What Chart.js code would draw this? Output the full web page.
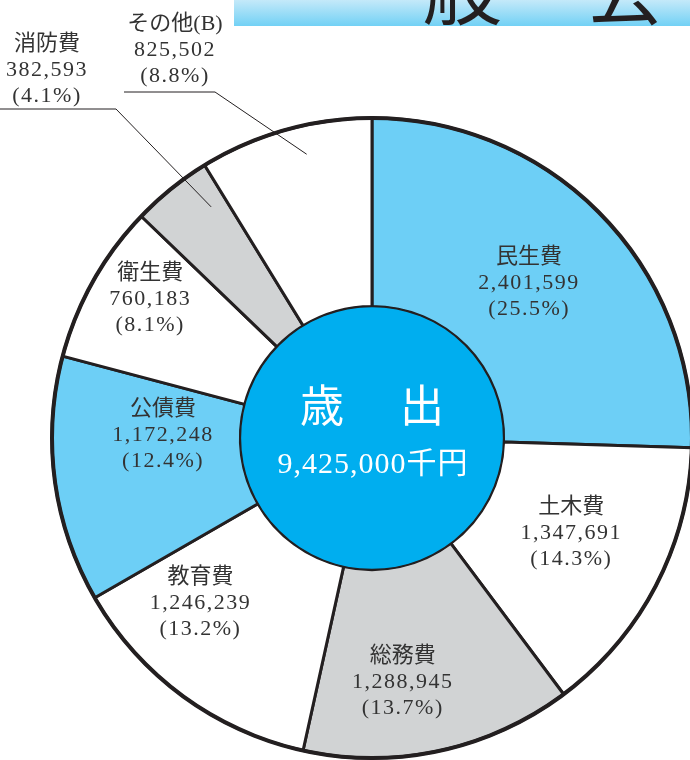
<!DOCTYPE html>
<html><head><meta charset="utf-8">
<script src="https://cdn.jsdelivr.net/npm/chart.js@4.4.1/dist/chart.umd.min.js"></script>
<style>
html,body{margin:0;padding:0;background:#fff;overflow:hidden;width:690px;height:760px}
#c{position:absolute;left:0;top:0}
#banner{position:absolute;left:234px;top:0;width:456px;height:26px;background:linear-gradient(#c4e9f9,#72d1f5);overflow:hidden;z-index:2}
#banner span{position:absolute;left:25px;top:-57px;font:400 80px/80px "Noto Sans CJK JP";letter-spacing:83px;white-space:nowrap;color:#231f20}
</style></head>
<body>
<div id="banner"><span>一般会計</span></div>
<canvas id="c" width="700" height="760"></canvas>
<script>
const categories = ['民生費','土木費','総務費','教育費','公債費','衛生費','消防費','その他(B)'];
const values = [2401599,1347691,1288945,1246239,1172248,760183,382593,825502];
const percents = [25.5,14.3,13.7,13.2,12.4,8.1,4.1,8.8];
const centerTitle = '歳　出';
const centerTotal = '9,425,000千円';

const sliceColors = ['#6dcff6','#ffffff','#d1d3d4','#ffffff','#6dcff6','#ffffff','#d1d3d4','#ffffff'];
const inkColor = '#231f20';
const textColor = '#333333';

// label placement: inside labels by radius fraction + angle tweak (deg); outside labels with leader lines
const labelLayout = [
  {r:0.69, da:-0.5},
  {r:0.69, da:-2},
  {r:0.77, da:5},
  {r:0.745, da:9.8},
  {r:0.653, da:8.4},
  {r:0.817, da:2.6},
  {out:true, tx:47, ty:70, ly:109, lx0:0, lx1:116, r:0.88, da:4},
  {out:true, tx:175, ty:50, ly:92, lx0:124, lx1:215, r:0.91, da:2.8}
];

const fmt = v => v.toLocaleString('en-US');

const labelPlugin = {
  id:'labels',
  afterDatasetsDraw(chart){
    const ctx = chart.ctx;
    const meta = chart.getDatasetMeta(0);
    const a0 = meta.data[0];
    const cx = a0.x, cy = a0.y, R = a0.outerRadius, ri = a0.innerRadius;
    ctx.save();
    // heavier outer rim
    ctx.beginPath();
    ctx.arc(cx, cy, R, 0, Math.PI*2);
    ctx.lineWidth = 4;
    ctx.strokeStyle = inkColor;
    ctx.stroke();
    // inner circle
    ctx.beginPath();
    ctx.arc(cx, cy, ri, 0, Math.PI*2);
    ctx.fillStyle = '#00aeef';
    ctx.fill();
    ctx.lineWidth = 1.5;
    ctx.strokeStyle = inkColor;
    ctx.stroke();
    // center text
    ctx.fillStyle = '#ffffff';
    ctx.textAlign = 'center';
    ctx.textBaseline = 'middle';
    ctx.font = '44px "Noto Sans CJK JP"';
    try{ctx.letterSpacing='6px';}catch(e){}
    ctx.fillText(centerTitle, cx+3, cy-33);
    ctx.font = '30px "Liberation Serif", "Noto Sans CJK JP"';
    try{ctx.letterSpacing='1px';}catch(e){}
    ctx.fillText(centerTotal, cx+1, cy+27);
    // slice labels
    ctx.fillStyle = textColor;
    meta.data.forEach((arc, i) => {
      const L = labelLayout[i];
      const a = (arc.startAngle + arc.endAngle)/2 + L.da*Math.PI/180;
      const px = cx + L.r*R*Math.cos(a), py = cy + L.r*R*Math.sin(a);
      let tx, ty;
      if (L.out) {
        tx = L.tx; ty = L.ty;
        ctx.beginPath();
        ctx.moveTo(L.lx0, L.ly);
        ctx.lineTo(L.lx1, L.ly);
        ctx.lineTo(px, py);
        ctx.lineWidth = 1;
        ctx.strokeStyle = inkColor;
        ctx.stroke();
      } else { tx = px; ty = py; }
      ctx.font = '22px "Liberation Serif", "Noto Sans CJK JP"';
      try{ctx.letterSpacing='0px';}catch(e){}
      ctx.fillText(categories[i], tx, ty-26);
      try{ctx.letterSpacing='1.5px';}catch(e){}
      ctx.fillText(fmt(values[i]), tx, ty);
      ctx.fillText('(' + percents[i].toFixed(1) + '%)', tx, ty+26);
    });
    ctx.restore();
  }
};

new Chart(document.getElementById('c'), {
  type:'doughnut',
  data:{
    labels:categories,
    datasets:[{
      data:values,
      backgroundColor:sliceColors,
      borderColor:inkColor,
      borderWidth:3
    }]
  },
  options:{
    responsive:false,
    animation:false,
    radius:320,
    cutout:131,
    layout:{padding:{left:52, top:118, right:8, bottom:2}},
    plugins:{legend:{display:false}, tooltip:{enabled:false}}
  },
  plugins:[labelPlugin]
});
</script>
</body></html>
